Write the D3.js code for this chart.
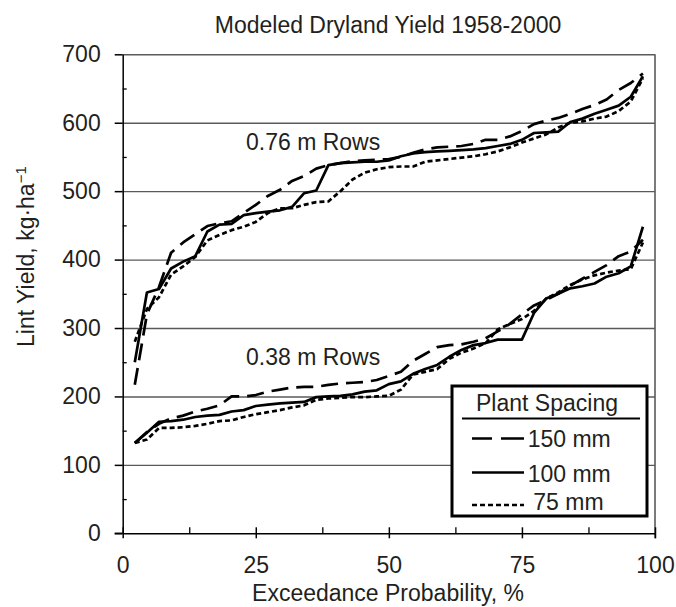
<!DOCTYPE html>
<html><head><meta charset="utf-8">
<script src="https://cdn.jsdelivr.net/npm/d3@7"></script>
<style>
body{margin:0;background:#fff;}
svg text{font-family:"Liberation Sans",Arial,sans-serif;fill:#231f20;}
</style></head><body>
<svg id="chart" width="676" height="607"></svg>
<script>
// Exceedance probability (%) of each ranked year, 1958-2000 (43 years)
const probability = [2.27,4.55,6.82,9.09,11.36,13.64,15.91,18.18,20.45,22.73,25.00,27.27,29.55,31.82,34.09,36.36,38.64,40.91,43.18,45.45,47.73,50.00,52.27,54.55,56.82,59.09,61.36,63.64,65.91,68.18,70.45,72.73,75.00,77.27,79.55,81.82,84.09,86.36,88.64,90.91,93.18,95.45,97.73];

// 0.76 m rows
const rows076_150 = [217,320,360,410,425,437,449,453,456,468,480,493,502,515,522,533,538,541,544,545,546,547,550,556,561,564,565,566,569,575,575,580,588,598,603,607,613,620,626,634,648,658,672];
const rows076_100 = [250,352,357,387,397,405,441,451,452,465,468,470,472,477,497,501,538,541,542,543,543,545,551,555,557,558,559,560,561,563,566,569,575,585,586,587,601,606,613,619,625,638,668];
const rows076_75  = [280,328,345,378,390,404,428,436,443,448,455,468,475,475,480,484,485,500,517,527,532,535,536,536,543,545,547,549,551,554,558,564,571,577,583,593,600,602,606,609,617,631,665];

// 0.38 m rows
const rows038_150 = [132,148,160,168,172,178,182,187,200,200,202,207,210,213,214,214,217,219,220,221,224,230,236,252,262,272,275,276,280,285,295,306,320,333,341,350,362,372,382,392,405,412,429];
const rows038_100 = [132,147,163,164,166,170,172,173,178,180,186,188,190,191,192,199,200,201,203,207,209,218,222,233,240,246,258,268,275,278,283,283,283,322,343,350,358,361,365,375,380,390,448];
const rows038_75  = [132,137,154,154,155,157,160,164,165,170,174,177,180,184,187,195,197,198,199,199,200,201,210,232,236,240,255,264,270,278,298,306,313,325,343,352,363,371,377,381,384,386,425];

const yTicks = [0,100,200,300,400,500,600,700];
const yMinorTicks = [50,150,250,350,450,550,650];
const xTicks = [0,25,50,75,100];
const xMinorTicks = [12.5,37.5,62.5,87.5];
const spacingLabels = ["150 mm","100 mm","75 mm"];
const groupLabels = ["0.76 m Rows","0.38 m Rows"];

const dashes = {"150 mm":"17,8","100 mm":null,"75 mm":"5,3"};
const legendDashes = {"150 mm":"20,9,40","100 mm":null,"75 mm":"5,3"};

const svg = d3.select("#chart");
const L = 122.7, R = 655, T = 54.3, B = 533.3;
const x = d3.scaleLinear().domain([0,100]).range([L,R]);
const y = d3.scaleLinear().domain([0,700]).range([B,T]);
const FS = 23;

// gridlines (incl. top border)
svg.append("g").attr("transform",`translate(${L},0)`)
  .call(d3.axisLeft(y).tickValues(yTicks.slice(1)).tickSize(-(R-L)).tickFormat(""))
  .call(g=>g.select(".domain").remove())
  .selectAll("line").attr("stroke","#5a5a5a").attr("stroke-width",1.4);
// right border
svg.append("line").attr("x1",R).attr("x2",R).attr("y1",T).attr("y2",B+5)
  .attr("stroke","#5a5a5a").attr("stroke-width",1.6);

// y axis
const yAx = svg.append("g").attr("transform",`translate(${L},0)`)
  .call(d3.axisLeft(y).tickValues(yTicks).tickSizeInner(8).tickSizeOuter(0).tickPadding(14));
yAx.select(".domain").attr("stroke","#000").attr("stroke-width",1.5);
yAx.selectAll(".tick line").attr("stroke","#000").attr("stroke-width",1.5);
yAx.selectAll("text").attr("font-size",FS).attr("font-family","Liberation Sans, Arial, sans-serif").attr("fill","#231f20");
svg.append("g").attr("transform",`translate(${L},0)`)
  .call(d3.axisRight(y).tickValues(yMinorTicks).tickSize(4).tickFormat(""))
  .call(g=>g.select(".domain").remove())
  .selectAll("line").attr("stroke","#000").attr("stroke-width",1.3);

// x axis
const xAx = svg.append("g").attr("transform",`translate(0,${B})`)
  .call(d3.axisBottom(x).tickValues(xTicks).tickSizeInner(5).tickSizeOuter(0).tickPadding(18));
xAx.select(".domain").attr("stroke","#000").attr("stroke-width",1.5);
xAx.selectAll(".tick line").attr("stroke","#000").attr("stroke-width",1.5);
xAx.selectAll("text").attr("font-size",FS).attr("font-family","Liberation Sans, Arial, sans-serif").attr("fill","#231f20");
svg.append("g").attr("transform",`translate(0,${B})`)
  .call(d3.axisTop(x).tickValues(xTicks).tickSize(6).tickFormat(""))
  .call(g=>g.select(".domain").remove())
  .selectAll("line").attr("stroke","#000").attr("stroke-width",1.5);
svg.append("g").attr("transform",`translate(0,${B})`)
  .call(d3.axisTop(x).tickValues(xMinorTicks).tickSize(6).tickFormat(""))
  .call(g=>g.select(".domain").remove())
  .selectAll("line").attr("stroke","#000").attr("stroke-width",1.3);
svg.append("line").attr("x1",L-8).attr("x2",L).attr("y1",B).attr("y2",B).attr("stroke","#000").attr("stroke-width",1.5);

// curves
const line = d3.line().x((d,i)=>x(probability[i])).y(d=>y(d));
const series = [
  {key:"150 mm", values:rows076_150},{key:"100 mm", values:rows076_100},{key:"75 mm", values:rows076_75},
  {key:"150 mm", values:rows038_150},{key:"100 mm", values:rows038_100},{key:"75 mm", values:rows038_75}
];
svg.append("g").selectAll("path").data(series).join("path")
  .attr("d",d=>line(d.values))
  .attr("fill","none").attr("stroke","#000").attr("stroke-width",2.7)
  .attr("stroke-linejoin","round")
  .attr("stroke-dasharray",d=>dashes[d.key]);

// group labels
svg.append("text").attr("x",246).attr("y",150).attr("font-size",FS).text(groupLabels[0]);
svg.append("text").attr("x",246).attr("y",365).attr("font-size",FS).text(groupLabels[1]);

// title & axis titles
svg.append("text").attr("x",388).attr("y",33).attr("text-anchor","middle").attr("font-size",FS)
  .text("Modeled Dryland Yield 1958-2000");
svg.append("text").attr("x",388).attr("y",601).attr("text-anchor","middle").attr("font-size",FS)
  .text("Exceedance Probability, %");
const yt = svg.append("text").attr("transform","translate(34,347) rotate(-90)").attr("font-size",FS);
yt.append("tspan").text("Lint Yield, kg·ha");
yt.append("tspan").attr("font-size",15).attr("dy",-8).text("−1");

// legend
const lg = svg.append("g");
lg.append("rect").attr("x",452).attr("y",386).attr("width",195).attr("height",130)
  .attr("fill","#fff").attr("stroke","#000").attr("stroke-width",3);
lg.append("text").attr("x",547).attr("y",411).attr("text-anchor","middle").attr("font-size",FS).text("Plant Spacing");
lg.append("line").attr("x1",462).attr("x2",640).attr("y1",418.5).attr("y2",418.5).attr("stroke","#000").attr("stroke-width",2);
const legY = [438.5,472.5,505];
const legTextY = [446.7,481.7,510];
const legTextX = [527.7,527.7,533.3];
spacingLabels.forEach((k,i)=>{
  lg.append("line").attr("x1",472).attr("x2",524).attr("y1",legY[i]).attr("y2",legY[i])
    .attr("stroke","#000").attr("stroke-width",2.7).attr("stroke-dasharray",legendDashes[k]);
  lg.append("text").attr("x",legTextX[i]).attr("y",legTextY[i]).attr("font-size",FS).text(k);
});
</script>
</body></html>
